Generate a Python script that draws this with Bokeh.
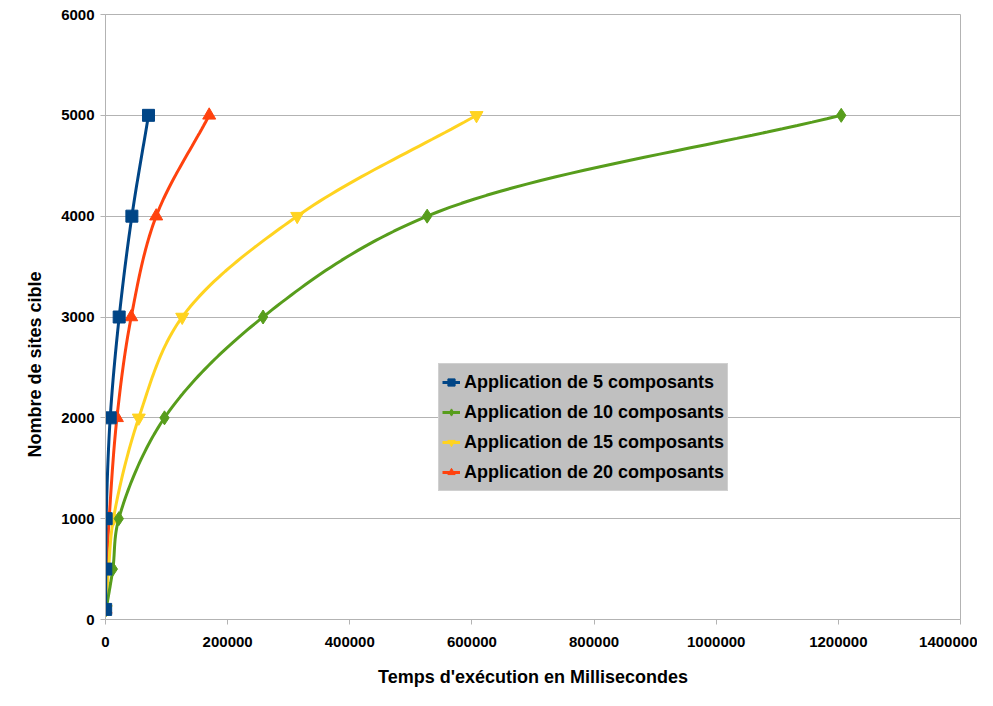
import numpy as np
from bokeh.plotting import figure
from bokeh.models import Legend, LegendItem, Title, Range1d, FixedTicker
from bokeh.embed import file_html
from bokeh.resources import INLINE

# ---- data ----
sites = [100, 500, 1000, 2000, 3000, 4000, 5000]
app5 = [300, 500, 1100, 7700, 22400, 43200, 70400]
app10 = [1000, 12000, 21800, 96600, 258000, 526700, 1204700]
app15 = [500, 5000, 13000, 54500, 125600, 313900, 607500]
app20 = [200, 1500, 6000, 18700, 42100, 83000, 169800]
series_names = ["Application de 5 composants", "Application de 10 composants",
                "Application de 15 composants", "Application de 20 composants"]
x_ticks = [0, 200000, 400000, 600000, 800000, 1000000, 1200000, 1400000]
y_ticks = [0, 1000, 2000, 3000, 4000, 5000, 6000]

X_MAX = 1400000
Y_MAX = 6000
FONT = "Liberation Sans"


def smooth(xs, ys, n=30, sx=855.0, sy=605.0):
    """Centripetal Catmull-Rom curve through the data points (drawn in screen-like space)."""
    P = np.column_stack([np.asarray(xs, float) / X_MAX * sx, np.asarray(ys, float) / Y_MAX * sy])
    P = np.vstack([2 * P[0] - P[1], P, 2 * P[-1] - P[-2]])
    out = []
    for i in range(1, len(P) - 2):
        p0, p1, p2, p3 = P[i - 1], P[i], P[i + 1], P[i + 2]
        t0 = 0.0
        t1 = t0 + max(np.linalg.norm(p1 - p0) ** 0.5, 1e-6)
        t2 = t1 + max(np.linalg.norm(p2 - p1) ** 0.5, 1e-6)
        t3 = t2 + max(np.linalg.norm(p3 - p2) ** 0.5, 1e-6)
        for t in np.linspace(t1, t2, n, endpoint=(i == len(P) - 3)):
            a1 = (t1 - t) / (t1 - t0) * p0 + (t - t0) / (t1 - t0) * p1
            a2 = (t2 - t) / (t2 - t1) * p1 + (t - t1) / (t2 - t1) * p2
            a3 = (t3 - t) / (t3 - t2) * p2 + (t - t2) / (t3 - t2) * p3
            b1 = (t2 - t) / (t2 - t0) * a1 + (t - t0) / (t2 - t0) * a2
            b2 = (t3 - t) / (t3 - t1) * a2 + (t - t1) / (t3 - t1) * a3
            c = (t2 - t) / (t2 - t1) * b1 + (t - t1) / (t2 - t1) * b2
            out.append(c)
    out = np.array(out)
    return out[:, 0] / sx * X_MAX, out[:, 1] / sy * Y_MAX


p = figure(width=977, height=690, output_backend="svg", toolbar_location=None,
           x_range=Range1d(0, X_MAX), y_range=Range1d(0, Y_MAX),
           min_border_left=105, min_border_right=17, min_border_top=14, min_border_bottom=71)

p.outline_line_color = "#b3b3b3"
p.outline_line_width = 1
p.xgrid.visible = False
p.ygrid.grid_line_color = "#b3b3b3"
p.ygrid.ticker = FixedTicker(ticks=y_ticks)
p.background_fill_color = "white"
p.border_fill_color = "white"

for ax in (p.xaxis[0], p.yaxis[0]):
    ax.axis_line_color = "#b3b3b3"
    ax.major_tick_line_color = "#b3b3b3"
    ax.major_tick_in = 0
    ax.major_tick_out = 5
    ax.minor_tick_line_color = None
    ax.major_label_text_font = FONT
    ax.major_label_text_font_style = "bold"
    ax.major_label_text_font_size = "15px"
    ax.major_label_text_color = "black"
    ax.axis_label_text_font = FONT
    ax.axis_label_text_font_style = "bold"
    ax.axis_label_text_font_size = "18px"
    ax.axis_label_text_color = "black"

p.xaxis.ticker = FixedTicker(ticks=x_ticks)
p.yaxis.ticker = FixedTicker(ticks=y_ticks)
p.xaxis.major_label_overrides = {t: str(t) for t in x_ticks}
p.yaxis.major_label_overrides = {t: str(t) for t in y_ticks}
p.xaxis.major_label_standoff = 12
p.yaxis.major_label_standoff = 6
p.xaxis.axis_label = "Temps d'exécution en Millisecondes"
p.xaxis.axis_label_standoff = 17

ytitle = Title(text="Nombre de sites cible", align="left", offset=162,
               text_font=FONT, text_font_style="bold", text_font_size="18px",
               text_color="black", standoff=28)
p.add_layout(ytitle, "left")

colors = ["#004586", "#579d1c", "#ffd320", "#ff420e"]
markers = ["square", "diamond", "inverted_triangle", "triangle"]
sizes = [12, 14, 13, 13]
data = [app5, app10, app15, app20]

items = [None] * 4
# draw last series first so the first series ends up on top
for i in reversed(range(4)):
    cx, cy = smooth(data[i], sites)
    ln = p.line(cx, cy, line_color=colors[i], line_width=3)
    sc = p.scatter(data[i], sites, marker=markers[i], size=sizes[i],
                   fill_color=colors[i], line_color=colors[i])
    items[i] = LegendItem(label=series_names[i], renderers=[ln, sc])

legend = Legend(items=items, location=(333, 128), orientation="vertical",
                background_fill_color="#c0c0c0", background_fill_alpha=1.0,
                border_line_color="#e0e0e0", border_line_width=1,
                label_text_font=FONT, label_text_font_style="bold",
                label_text_font_size="18px", label_text_color="black",
                glyph_width=18, glyph_height=20, label_height=30, label_standoff=4,
                padding=3, spacing=0, margin=0)
p.add_layout(legend)

open("out.html", "w").write(file_html(p, INLINE))
